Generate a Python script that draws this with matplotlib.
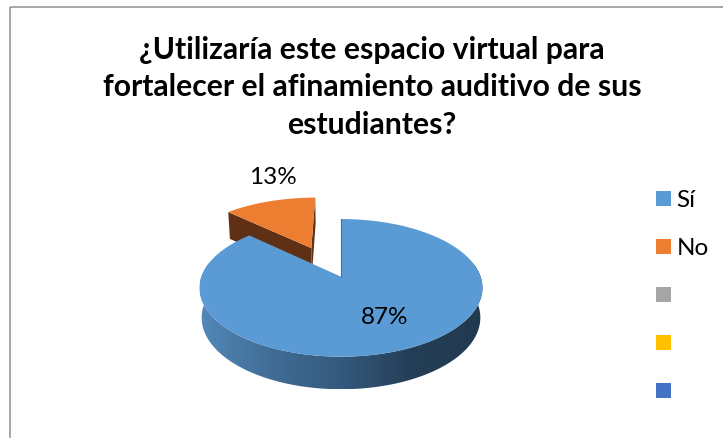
# -*- coding: utf-8 -*-
import numpy as np
import matplotlib
matplotlib.use("Agg")
import matplotlib.pyplot as plt
from matplotlib.colors import LinearSegmentedColormap
from matplotlib.patches import Patch, Polygon, Rectangle

plt.rcParams["font.family"] = ["Lato", "DejaVu Sans"]

title = "¿Utilizaría este espacio virtual para\nfortalecer el afinamiento auditivo de sus\nestudiantes?"
categories = ["Sí", "No", "", "", ""]
shares = [87, 13]
share_labels = ["87%", "13%"]
legend_colors = ["#5B9BD5", "#ED7D31", "#A5A5A5", "#FFC000", "#4472C4"]

# look of the pie, in pixels of the picture
cx, cy = 341.0, 276.7
a, b, p = 67.0, 139.6, 0.162
depth, scale_x, scale_y = 29.4, 0.985, 1.04
explode = 0.5


def top(u, v):
    # disc to picture, with a little perspective
    d = 1 + p * v
    return cx + b * u / d, cy - a * v / d


def bottom(u, v):
    d = 1 + p * v
    return cx + scale_x * b * u / d, cy + depth - scale_y * a * v / d


def rim(start, stop, n=120):
    t = np.radians(np.linspace(start, stop, n))
    return np.sin(t), np.cos(t)


fig = plt.figure(figsize=(7.23, 4.38), dpi=100)
ax = fig.add_axes([0, 0, 1, 1])
ax.set_xlim(0, 723)
ax.set_ylim(438, 0)
ax.axis("off")

# chart frame, only top and left show
ax.add_patch(Rectangle((10, 6.5), 900, 600, fill=False, ec="#8f8f8f", lw=1.1))

ax.text(372, 87.5, title, ha="center", va="center", fontsize=21.7, fontweight="bold",
        color="black", linespacing=1.41)

blue_end = 360 * shares[0] / sum(shares)

# exploded slice
mid = np.radians((blue_end + 360) / 2)
du, dv = 1.15 * explode * np.sin(mid), explode * np.cos(mid)
u, v = rim(blue_end, 360)
u_s = np.r_[0, u] + du
v_s = np.r_[0, v] + dv
xt, yt = top(u_s, v_s)
for i0, i1 in [(0, 1), (0, len(u_s) - 1)]:
    x0, y0 = top(u_s[[i0, i1]], v_s[[i0, i1]])
    x1, y1 = bottom(u_s[[i1, i0]], v_s[[i1, i0]])
    ax.add_patch(Polygon(np.c_[np.r_[x0, x1], np.r_[y0, y1]], fc="#5F3013", ec="none", zorder=2))
ax.add_patch(Polygon(np.c_[xt, yt], fc=legend_colors[1], ec="none", zorder=3))

# side of the big slice
u, v = rim(78, 282)
x0, y0 = top(u, v)
x1, y1 = bottom(u[::-1], v[::-1])
side = Polygon(np.c_[np.r_[x0, x1], np.r_[y0, y1]], fc="none", ec="none", zorder=4)
ax.add_patch(side)
side_cmap = LinearSegmentedColormap.from_list(
    "side", ["#213A50", "#243E57", "#34597D", "#416D95", "#5288B8"])
img = ax.imshow(np.linspace(0, 1, 256)[None, :], cmap=side_cmap,
                extent=(x0.max(), x0.min(), y1.max(), y0.min()), aspect="auto", zorder=4)
img.set_clip_path(side)
ax.set_xlim(0, 723)
ax.set_ylim(438, 0)

# top of the big slice
u, v = rim(0, blue_end, 300)
xt, yt = top(np.r_[0, u], np.r_[0, v])
ax.add_patch(Polygon(np.c_[xt, yt], fc=legend_colors[0], ec="none", zorder=5))
x_cut, y_cut = top(np.array([0, 0]), np.array([0, 1]))
ax.plot(x_cut, y_cut, color="#3F6F9C", lw=0.8, zorder=5)

ax.text(385, 318, share_labels[0], ha="center", va="center", fontsize=17.5, color="black", zorder=6)
ax.text(273, 177, share_labels[1], ha="center", va="center", fontsize=17.5, color="black", zorder=6)

handles = [Patch(fc=c, ec="none") for c in legend_colors]
ax.legend(handles, categories, loc="center left", bbox_to_anchor=(649 / 723, 1 - 296.5 / 438),
          frameon=False, fontsize=17.5, handlelength=0.62, handleheight=0.62,
          labelspacing=1.11, handletextpad=0.22, borderpad=0.3, borderaxespad=0)

fig.savefig("out.png", dpi=100)
